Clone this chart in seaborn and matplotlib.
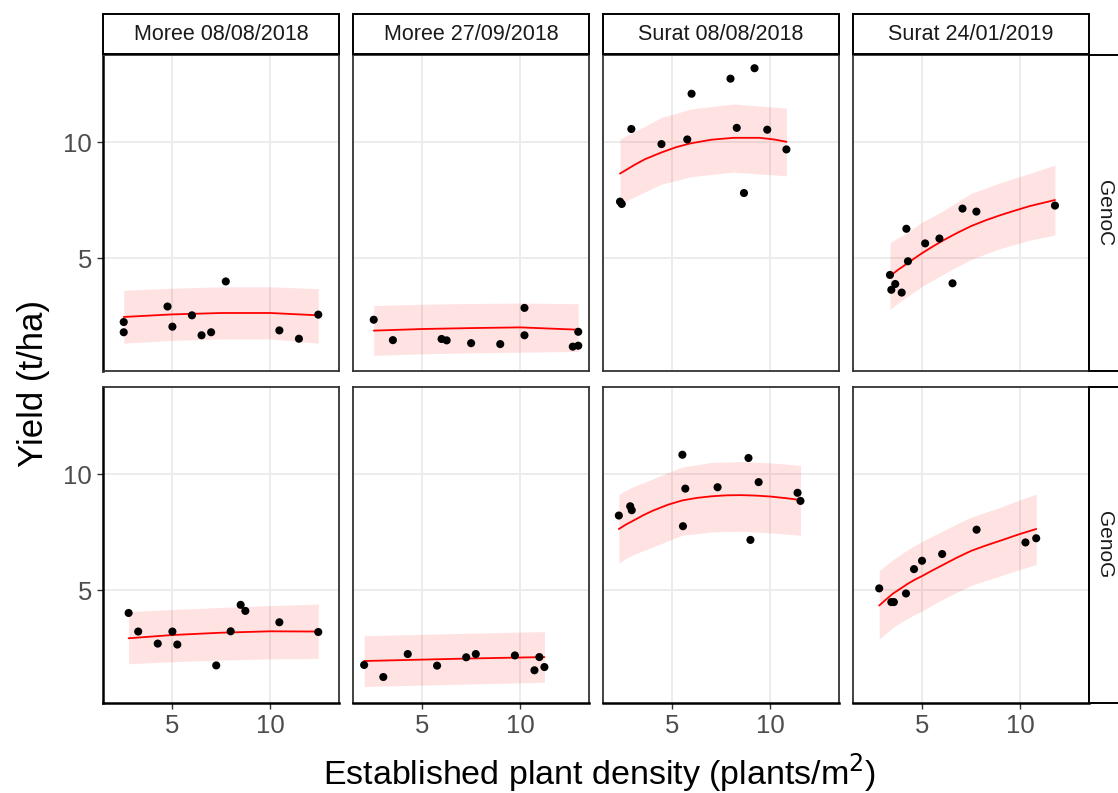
import numpy as np
import pandas as pd
import matplotlib
matplotlib.use("Agg")
import matplotlib.pyplot as plt
import seaborn as sns
from matplotlib.patches import Rectangle

# ---------------- data ----------------
sites = ["Moree 08/08/2018", "Moree 27/09/2018", "Surat 08/08/2018", "Surat 24/01/2019"]
genos = ["GenoC", "GenoG"]
x_ticks = [5, 10]
y_ticks = [5, 10]

# observed points (density, yield)
c1_x = [2.51, 2.51, 4.75, 5.0, 6.0, 6.49, 6.98, 7.73, 10.47, 11.47, 12.46]
c1_y = [2.26, 1.82, 2.93, 2.06, 2.55, 1.69, 1.82, 4.01, 1.90, 1.54, 2.58]
c2_x = [2.51, 3.49, 5.98, 6.24, 7.49, 8.98, 10.22, 10.22, 12.69, 12.97, 12.97]
c2_y = [2.36, 1.48, 1.53, 1.47, 1.35, 1.31, 2.87, 1.69, 1.20, 1.24, 1.84]
c3_x = [2.32, 2.41, 2.90, 4.44, 5.76, 5.98, 7.97, 8.29, 8.66, 9.20, 9.85, 10.83]
c3_y = [7.45, 7.35, 10.58, 9.93, 10.13, 12.10, 12.75, 10.63, 7.82, 13.20, 10.55, 9.70]
c4_x = [3.34, 3.41, 3.61, 3.94, 4.18, 4.26, 5.14, 5.87, 6.54, 7.05, 7.76, 11.78]
c4_y = [4.29, 3.65, 3.90, 3.53, 6.28, 4.88, 5.65, 5.86, 3.93, 7.15, 7.02, 7.28]
g1_x = [2.76, 3.25, 4.25, 5.0, 5.25, 7.24, 7.98, 8.49, 8.73, 10.47, 12.46]
g1_y = [4.03, 3.23, 2.71, 3.23, 2.67, 1.77, 3.24, 4.38, 4.12, 3.63, 3.21]
g2_x = [2.02, 3.0, 4.25, 5.75, 7.24, 7.73, 9.73, 10.73, 10.98, 11.24]
g2_y = [1.79, 1.27, 2.26, 1.76, 2.12, 2.26, 2.20, 1.56, 2.13, 1.70]
g3_x = [2.26, 2.84, 2.92, 5.51, 5.54, 5.66, 7.31, 8.89, 8.99, 9.41, 11.40, 11.55]
g3_y = [8.23, 8.63, 8.46, 10.85, 7.77, 9.39, 9.45, 10.71, 7.18, 9.67, 9.21, 8.86]
g4_x = [2.79, 3.41, 3.54, 4.16, 4.57, 4.98, 6.01, 7.77, 10.27, 10.82]
g4_y = [5.09, 4.50, 4.50, 4.87, 5.92, 6.28, 6.57, 7.62, 7.07, 7.25]

# fitted curves with intervals
c1_cx = [2.51, 5.0, 7.5, 10.0, 12.46]
c1_fit = [2.48, 2.59, 2.65, 2.65, 2.55]
c1_hi = [3.63, 3.72, 3.78, 3.78, 3.70]
c1_lo = [1.35, 1.47, 1.53, 1.53, 1.35]
c2_cx = [2.51, 5.0, 7.5, 10.0, 12.97]
c2_fit = [1.89, 1.96, 2.00, 2.03, 1.93]
c2_hi = [2.97, 3.03, 3.06, 3.08, 3.05]
c2_lo = [0.82, 0.89, 0.93, 0.96, 0.99]
c3_cx = [2.32, 2.7, 3.03, 3.6, 4.44, 5.2, 5.92, 7.0, 8.12, 9.47, 10.2, 10.83]
c3_fit = [8.66, 8.85, 9.02, 9.28, 9.57, 9.80, 9.96, 10.12, 10.20, 10.20, 10.13, 10.03]
c3_hi = [10.14, 10.31, 10.45, 10.70, 11.08, 11.26, 11.44, 11.55, 11.66, 11.57, 11.52, 11.48]
c3_lo = [7.36, 7.51, 7.64, 7.87, 8.20, 8.36, 8.52, 8.62, 8.72, 8.64, 8.60, 8.56]
c4_cx = [3.34, 3.75, 4.2, 4.6, 5.0, 5.5, 6.0, 6.75, 7.5, 8.25, 9.0, 9.75, 10.5, 11.78]
c4_fit = [4.24, 4.51, 4.77, 5.01, 5.24, 5.50, 5.75, 6.09, 6.40, 6.65, 6.87, 7.07, 7.26, 7.52]
c4_hi = [5.68, 5.89, 6.10, 6.34, 6.58, 6.80, 7.02, 7.42, 7.81, 8.04, 8.27, 8.47, 8.67, 9.03]
c4_lo = [2.80, 3.08, 3.34, 3.57, 3.80, 4.05, 4.29, 4.63, 4.96, 5.20, 5.43, 5.61, 5.79, 6.01]
g1_cx = [2.76, 5.0, 7.5, 10.0, 12.46]
g1_fit = [2.94, 3.08, 3.18, 3.24, 3.23]
g1_hi = [4.09, 4.18, 4.27, 4.35, 4.41]
g1_lo = [1.84, 1.93, 2.00, 2.05, 2.07]
g2_cx = [2.02, 5.0, 7.5, 11.24]
g2_fit = [1.96, 2.02, 2.07, 2.13]
g2_hi = [3.05, 3.11, 3.16, 3.23]
g2_lo = [0.86, 0.92, 0.97, 1.04]
g3_cx = [2.26, 2.6, 3.0, 3.5, 4.0, 4.75, 5.5, 6.25, 7.0, 7.75, 8.5, 9.25, 10.0, 10.8, 11.55]
g3_fit = [7.65, 7.83, 8.01, 8.24, 8.44, 8.69, 8.88, 8.99, 9.06, 9.10, 9.11, 9.09, 9.05, 8.98, 8.90]
g3_hi = [9.14, 9.31, 9.48, 9.64, 9.81, 10.07, 10.32, 10.42, 10.52, 10.54, 10.56, 10.53, 10.50, 10.45, 10.39]
g3_lo = [6.17, 6.37, 6.54, 6.71, 6.87, 7.13, 7.38, 7.45, 7.52, 7.54, 7.55, 7.52, 7.48, 7.43, 7.38]
g4_cx = [2.79, 3.15, 3.5, 3.9, 4.25, 4.6, 5.0, 5.5, 6.0, 6.75, 7.5, 8.25, 9.0, 9.9, 10.82]
g4_fit = [4.35, 4.62, 4.87, 5.09, 5.29, 5.46, 5.63, 5.86, 6.08, 6.41, 6.71, 6.94, 7.15, 7.41, 7.65]
g4_hi = [5.85, 6.10, 6.33, 6.56, 6.76, 6.94, 7.12, 7.34, 7.55, 7.87, 8.16, 8.38, 8.59, 8.88, 9.16]
g4_lo = [2.90, 3.16, 3.41, 3.62, 3.80, 3.96, 4.12, 4.37, 4.60, 4.92, 5.22, 5.43, 5.63, 5.88, 6.12]

points = {
    ("GenoC", 0): (c1_x, c1_y), ("GenoC", 1): (c2_x, c2_y),
    ("GenoC", 2): (c3_x, c3_y), ("GenoC", 3): (c4_x, c4_y),
    ("GenoG", 0): (g1_x, g1_y), ("GenoG", 1): (g2_x, g2_y),
    ("GenoG", 2): (g3_x, g3_y), ("GenoG", 3): (g4_x, g4_y),
}
curves = {
    ("GenoC", 0): (c1_cx, c1_fit, c1_lo, c1_hi), ("GenoC", 1): (c2_cx, c2_fit, c2_lo, c2_hi),
    ("GenoC", 2): (c3_cx, c3_fit, c3_lo, c3_hi), ("GenoC", 3): (c4_cx, c4_fit, c4_lo, c4_hi),
    ("GenoG", 0): (g1_cx, g1_fit, g1_lo, g1_hi), ("GenoG", 1): (g2_cx, g2_fit, g2_lo, g2_hi),
    ("GenoG", 2): (g3_cx, g3_fit, g3_lo, g3_hi), ("GenoG", 3): (g4_cx, g4_fit, g4_lo, g4_hi),
}

# ---------------- style ----------------
sns.set_theme(style="white")
plt.rcParams['font.family'] = ['Liberation Sans', 'DejaVu Sans']

W, H = 1118, 793
fig = plt.figure(figsize=(W / 100, H / 100), dpi=100)

col_left = [103, 353, 603, 853]
pw = 236
row_top = [55, 387]
ph = 316
xlim = (1.45, 13.52)
ylim = (0.15, 13.77)


def fig_rect(l, t, w, h):
    return [l / W, 1 - (t + h) / H, w / W, h / H]


for r, geno in enumerate(genos):
    for c, site in enumerate(sites):
        ax = fig.add_axes(fig_rect(col_left[c], row_top[r], pw, ph))
        px, py = points[(geno, c)]
        cx, fit, lo, hi = curves[(geno, c)]
        ax.fill_between(cx, lo, hi, color="red", alpha=0.11, lw=0, zorder=1)
        sns.lineplot(x=cx, y=fit, ax=ax, color="red", lw=1.3, zorder=2)
        sns.scatterplot(x=px, y=py, ax=ax, color="black", s=34, edgecolor="none", zorder=3)
        ax.set_xlim(*xlim)
        ax.set_ylim(*ylim)
        ax.set_xticks(x_ticks)
        ax.set_yticks(y_ticks)
        ax.grid(True, color="#EBEBEB", lw=1.3)
        ax.set_axisbelow(True)
        ax.set_xlabel("")
        ax.set_ylabel("")
        for s in ax.spines.values():
            s.set_color("#333333")
            s.set_linewidth(1.3)
        if c == 0:
            ax.spines["left"].set_color("black")
            ax.spines["left"].set_linewidth(1.8)
        if r == 1:
            ax.spines["bottom"].set_color("black")
            ax.spines["bottom"].set_linewidth(1.8)
        ax.tick_params(axis="x", bottom=(r == 1), labelbottom=(r == 1),
                       length=4, width=1, color="#333333", labelsize=18.5,
                       labelcolor="#4D4D4D", pad=4, direction="out")
        ax.tick_params(axis="y", left=(c == 0), labelleft=(c == 0),
                       length=4, width=1, color="#333333", labelsize=18.5,
                       labelcolor="#4D4D4D", pad=4, direction="out")
        # top strips
        if r == 0:
            fig.patches.append(Rectangle((col_left[c] / W, 1 - 54 / H), pw / W, 40 / H,
                                         transform=fig.transFigure, facecolor="white",
                                         edgecolor="black", lw=1.4))
            fig.text((col_left[c] + pw / 2) / W, 1 - 34 / H, site, ha="center", va="center",
                     fontsize=15.5, color="#1A1A1A")
    # right strips
    fig.patches.append(Rectangle((1089 / W, 1 - (row_top[r] + ph) / H), 45 / W, ph / H,
                                 transform=fig.transFigure, facecolor="white",
                                 edgecolor="black", lw=1.4))
    fig.text(1105 / W, 1 - (row_top[r] + ph / 2) / H, geno, ha="center", va="center",
             rotation=-90, fontsize=15, color="#1A1A1A")

fig.text(600 / W, 1 - 784 / H, "Established plant density (plants/m$^2$)",
         ha="center", va="baseline", fontsize=24.5, color="black")
fig.text(33 / W, 1 - 383 / H, "Yield (t/ha)", ha="center", va="center",
         rotation=90, fontsize=25, color="black")

fig.savefig("out.png", dpi=100)
